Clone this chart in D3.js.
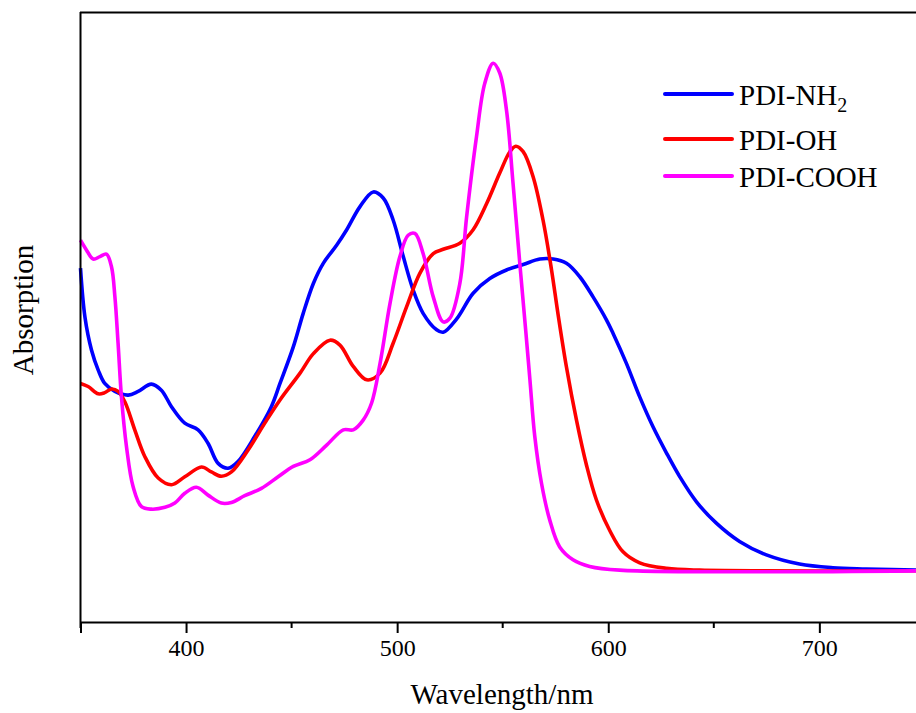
<!DOCTYPE html>
<html>
<head>
<meta charset="utf-8">
<script src="https://cdn.jsdelivr.net/npm/d3@7"></script>
<style>
  body { margin: 0; background: #fff; }
  svg { display: block; font-family: "Liberation Serif", "Times New Roman", serif; }
</style>
</head>
<body>
<div class="graph-container"></div>
<script>
// wavelength (nm) and absorption (a.u.)
var nh2Wave = [350, 352.1, 355.2, 358.4, 361.5, 366.3, 372.6, 377.3, 383.6, 388.3, 393.1, 399.4, 405.7, 410.4, 415.2, 419.9, 424.6, 432.5, 440.4, 444.5, 450.8, 455.5, 460.3, 465, 471.4, 476.1, 482.4, 488.7, 493.4, 498.1, 502.9, 507.6, 512.3, 518.7, 521.8, 528.2, 536, 543.9, 551.8, 559.7, 567.6, 573.9, 580.2, 586.5, 592.8, 599.2, 602.3, 608.6, 614.9, 621.2, 627.6, 633.9, 641.8, 651.2, 662.2, 674.9, 690.6, 706.4, 722.2, 750];
var nh2Abs = [0.580, 0.500, 0.446, 0.413, 0.391, 0.378, 0.372, 0.378, 0.390, 0.380, 0.353, 0.326, 0.315, 0.293, 0.260, 0.252, 0.263, 0.304, 0.353, 0.391, 0.451, 0.506, 0.555, 0.588, 0.618, 0.643, 0.681, 0.705, 0.695, 0.659, 0.599, 0.544, 0.506, 0.479, 0.475, 0.497, 0.539, 0.563, 0.577, 0.586, 0.595, 0.595, 0.588, 0.566, 0.533, 0.495, 0.473, 0.424, 0.369, 0.320, 0.277, 0.238, 0.197, 0.162, 0.132, 0.110, 0.095, 0.089, 0.087, 0.085];

var ohWave = [350, 353.6, 358.4, 361.5, 364.7, 367.8, 371, 375.7, 380.5, 386.8, 393.1, 399.4, 407.3, 412, 416.7, 421.5, 429.4, 437.3, 444.5, 454, 460.3, 468.2, 472.9, 479.2, 485.6, 491.9, 498.1, 504.5, 510.8, 517.1, 521.8, 529.7, 536, 542.4, 548.6, 553.4, 556.2, 559.7, 564.4, 569.1, 573.1, 576.2, 580.2, 585, 589.7, 594.4, 600.7, 607, 614.9, 627.6, 643.3, 750];
var ohAbs = [0.391, 0.386, 0.374, 0.376, 0.382, 0.378, 0.361, 0.315, 0.271, 0.236, 0.225, 0.238, 0.254, 0.246, 0.239, 0.246, 0.282, 0.326, 0.364, 0.408, 0.440, 0.462, 0.454, 0.419, 0.397, 0.408, 0.457, 0.517, 0.572, 0.604, 0.611, 0.621, 0.643, 0.686, 0.736, 0.771, 0.780, 0.771, 0.730, 0.659, 0.578, 0.505, 0.418, 0.330, 0.257, 0.200, 0.150, 0.115, 0.097, 0.088, 0.085, 0.084];

var coohWave = [350, 352.8, 356, 359.2, 362.3, 364.7, 366.3, 367.8, 369.4, 371.8, 374.9, 378.9, 383.6, 390, 394.7, 399.4, 404.9, 410.4, 416.7, 421.5, 427.8, 435.7, 443.6, 450.8, 458.7, 466.6, 474.5, 479.2, 483.9, 487.9, 491.9, 496.6, 501.3, 505.2, 508.4, 512.3, 517.1, 521.8, 525, 529.7, 532.9, 537.6, 541.5, 545.5, 548.6, 551.8, 554.9, 558.1, 561, 562.9, 565.2, 568.4, 572.3, 577, 583.3, 591.2, 605.4, 750];
var coohAbs = [0.626, 0.610, 0.595, 0.599, 0.603, 0.582, 0.533, 0.457, 0.369, 0.287, 0.222, 0.189, 0.185, 0.188, 0.195, 0.211, 0.221, 0.208, 0.195, 0.196, 0.207, 0.219, 0.238, 0.255, 0.266, 0.290, 0.315, 0.315, 0.331, 0.359, 0.424, 0.522, 0.599, 0.634, 0.637, 0.604, 0.533, 0.492, 0.498, 0.555, 0.664, 0.796, 0.883, 0.916, 0.900, 0.839, 0.719, 0.588, 0.474, 0.397, 0.304, 0.227, 0.167, 0.123, 0.102, 0.091, 0.085, 0.084];

var seriesNames = ['PDI-NH2', 'PDI-OH', 'PDI-COOH'];
var seriesColors = ['#0000ff', '#ff0000', '#ff00ff'];
var majorTicks = [400, 500, 600, 700];
var minorTicks = [350, 450, 550, 650, 750];

var svgWidth = 916;
var svgHeight = 713;

var svg = d3.select('.graph-container').append('svg')
  .attr('width', svgWidth)
  .attr('height', svgHeight);

// x runs past the right edge of the picture (750 nm sits off-canvas)
var xScale = d3.scaleLinear()
  .domain([350, 750])
  .range([80.5, 924.9]);

var yScale = d3.scaleLinear()
  .domain([0, 1])
  .range([622, 12]);

function zip(w, a) {
  return w.map(function(d, i) { return [d, a[i]]; });
}
var allSeries = [zip(nh2Wave, nh2Abs), zip(ohWave, ohAbs), zip(coohWave, coohAbs)];

var line = d3.line()
  .x(function(d) { return xScale(d[0]); })
  .y(function(d) { return yScale(d[1]); })
  .curve(d3.curveCatmullRom.alpha(0.5));

svg.append('g').selectAll('path')
  .data(allSeries)
  .enter()
  .append('path')
  .attr('d', line)
  .attr('fill', 'none')
  .attr('stroke', function(d, i) { return seriesColors[i]; })
  .attr('stroke-width', 3.6)
  .attr('stroke-linejoin', 'round');

// frame: left and top lines
svg.append('line')
  .attr('x1', 80.5).attr('x2', 80.5)
  .attr('y1', 12).attr('y2', 622)
  .attr('stroke', '#000').attr('stroke-width', 2);
svg.append('line')
  .attr('x1', 80).attr('x2', svgWidth)
  .attr('y1', 12.5).attr('y2', 12.5)
  .attr('stroke', '#000').attr('stroke-width', 2);

// bottom axis with major and minor ticks
var xAxis = d3.axisBottom(xScale)
  .tickValues(majorTicks)
  .tickSize(11)
  .tickPadding(6)
  .tickFormat(d3.format('d'));

var axisG = svg.append('g')
  .attr('transform', 'translate(0,622)')
  .call(xAxis);
axisG.select('.domain').attr('stroke-width', 2);
axisG.selectAll('.tick line').attr('stroke-width', 2);
axisG.selectAll('.tick text')
  .attr('font-size', 24)
  .attr('font-family', '"Liberation Serif", serif')
  .attr('fill', '#000');

axisG.selectAll('.minor')
  .data(minorTicks)
  .enter()
  .append('line')
  .attr('class', 'minor')
  .attr('x1', function(d) { return xScale(d); })
  .attr('x2', function(d) { return xScale(d); })
  .attr('y1', 0)
  .attr('y2', 6)
  .attr('stroke', '#000')
  .attr('stroke-width', 2);

// axis titles
svg.append('text')
  .attr('x', 502)
  .attr('y', 704)
  .attr('text-anchor', 'middle')
  .attr('font-size', 29)
  .text('Wavelength/nm');

svg.append('text')
  .attr('transform', 'translate(33,310) rotate(-90)')
  .attr('text-anchor', 'middle')
  .attr('font-size', 29)
  .text('Absorption');

// legend
var legendY = [94, 139, 176];
var legend = svg.append('g');
seriesNames.forEach(function(name, i) {
  legend.append('line')
    .attr('x1', 665).attr('x2', 732)
    .attr('y1', legendY[i]).attr('y2', legendY[i])
    .attr('stroke', seriesColors[i])
    .attr('stroke-width', 4)
    .attr('stroke-linecap', 'round');
  var t = legend.append('text')
    .attr('x', 739)
    .attr('y', legendY[i] + 11)
    .attr('font-size', 29);
  if (name === 'PDI-NH2') {
    t.append('tspan').text('PDI-NH');
    t.append('tspan').attr('dy', 7).attr('font-size', 20).text('2');
  } else {
    t.text(name);
  }
});
</script>
</body>
</html>
